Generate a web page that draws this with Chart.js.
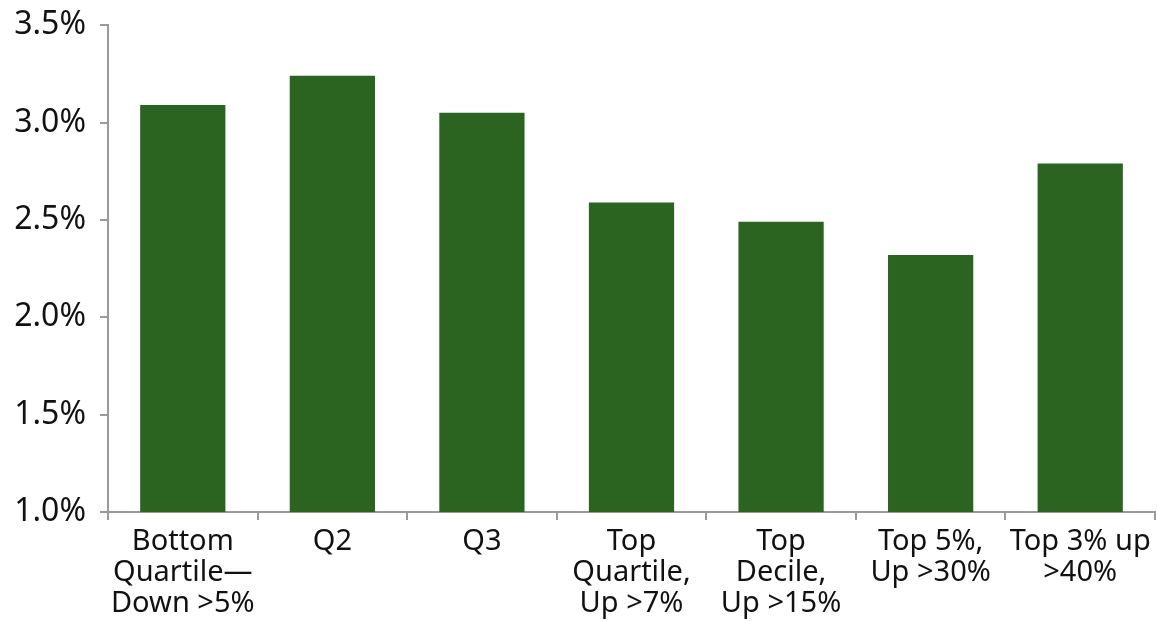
<!DOCTYPE html>
<html>
<head>
<meta charset="utf-8">
<script src="https://cdn.jsdelivr.net/npm/chart.js@4/dist/chart.umd.min.js"></script>
<style>
  html, body { margin: 0; padding: 0; background: #fff; }
  #wrap { width: 1157px; height: 622px; position: relative; }
</style>
</head>
<body>
<div id="wrap"><canvas id="chart1"></canvas></div>
<script>
// categories and values (percent)
const categories = [
  ["Bottom", "Quartile—", "Down >5%"],
  "Q2",
  "Q3",
  ["Top", "Quartile,", "Up >7%"],
  ["Top", "Decile,", "Up >15%"],
  ["Top 5%,", "Up >30%"],
  ["Top 3% up", ">40%"]
];
const values = [3.09, 3.24, 3.05, 2.59, 2.49, 2.32, 2.79];
const yTicks = [1.0, 1.5, 2.0, 2.5, 3.0, 3.5];

const green = "rgb(42, 100, 32)";
const axisGrey = "#9a9a9a";
const fontFam = "'Noto Sans', sans-serif";

var ctx = document.getElementById("chart1").getContext("2d");

var barChart = new Chart(ctx, {
  type: "bar",
  data: {
    labels: categories,
    datasets: [
      {
        data: values,
        backgroundColor: green,
        borderWidth: 0,
        categoryPercentage: 0.57,
        barPercentage: 1.0
      }
    ]
  },
  options: {
    responsive: true,
    maintainAspectRatio: false,
    animation: false,
    layout: { padding: { top: 25, right: 2, left: 0, bottom: 0 } },
    plugins: { legend: { display: false }, tooltip: { enabled: false } },
    scales: {
      x: {
        grid: {
          display: true,
          offset: true,
          drawOnChartArea: false,
          drawTicks: true,
          tickLength: 8,
          color: axisGrey,
          lineWidth: 2
        },
        border: { display: true, color: axisGrey, width: 2 },
        ticks: {
          color: "#111",
          font: { family: fontFam, size: 29, lineHeight: 1.07 },
          maxRotation: 0,
          minRotation: 0,
          autoSkip: false,
          padding: 6
        },
        afterFit: function (scale) { scale.height = 110; }
      },
      y: {
        min: yTicks[0],
        max: yTicks[yTicks.length - 1],
        afterBuildTicks: function (scale) {
          scale.ticks = yTicks.map(function (v) { return { value: v }; });
        },
        grid: {
          display: true,
          drawOnChartArea: false,
          drawTicks: true,
          tickLength: 8,
          color: axisGrey,
          lineWidth: 2
        },
        border: { display: true, color: axisGrey, width: 2 },
        ticks: {
          color: "#111",
          font: { family: fontFam, size: 32, lineHeight: 0.7 },
          padding: 14,
          callback: function (v) { return Number(v).toFixed(1) + "%"; }
        },
        afterFit: function (scale) { scale.width = 108; }
      }
    }
  }
});
</script>
</body>
</html>
